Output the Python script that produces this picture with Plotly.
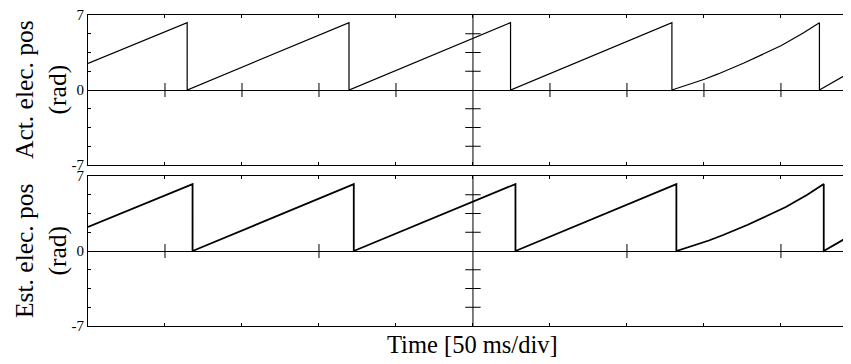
import plotly.graph_objects as go

# ---- data (time in ms, position in rad) ----
act_time = [0, 64.4, 64.4, 169.5, 169.5, 274.4, 274.4, 379.2, 379.2, 389.2, 400.3, 409.2, 425.6,
            439.2, 450.3, 464.2, 475.0, 475.0, 495.8]
act_pos = [2.49, 6.28, 0.0, 6.28, 0.0, 6.28, 0.0, 6.28, 0.0, 0.45, 1.0, 1.5, 2.49,
           3.4, 4.15, 5.3, 6.28, 0.0, 1.71]

est_time = [0, 67.9, 67.9, 172.6, 172.6, 277.6, 277.6, 382.1, 382.1, 392.1, 403.2, 412.1, 428.5,
            442.1, 453.2, 467.1, 477.8, 477.8, 495.8]
est_pos = [2.24, 6.25, 0.0, 6.25, 0.0, 6.25, 0.0, 6.25, 0.0, 0.44, 0.98, 1.47, 2.45,
           3.36, 4.1, 5.25, 6.25, 0.0, 1.49]

x_tick_vals = [0, 50, 100, 150, 200, 250, 300, 350, 400, 450]
y_tick_vals = [-7, -5.25, -3.5, -1.75, 0, 1.75, 3.5, 5.25, 7]
y_tick_text = ["-7", "", "", "", "0", "", "", "", "7"]
center_tick_vals = [-5.25, -3.5, -1.75, 1.75, 3.5, 5.25]
act_zero_ticks = [50, 100, 150, 200, 300, 350, 400, 450]
est_zero_ticks = [50, 150, 350, 450]
x_center = 250
x_end = 495.5
y_lim = 7

SERIF = "Liberation Serif, Times New Roman, serif"

fig = go.Figure()
fig.add_trace(go.Scatter(x=act_time, y=act_pos, mode="lines",
                         line=dict(color="black", width=1.2), xaxis="x", yaxis="y"))
fig.add_trace(go.Scatter(x=est_time, y=est_pos, mode="lines",
                         line=dict(color="black", width=1.8), xaxis="x2", yaxis="y2"))

for xa, ya, zt in (("x", "y", act_zero_ticks), ("x2", "y2", est_zero_ticks)):
    fig.add_trace(go.Scatter(x=[x_center] * len(center_tick_vals), y=center_tick_vals, mode="markers",
                             marker=dict(symbol="line-ew", size=11, line=dict(color="black", width=1)),
                             xaxis=xa, yaxis=ya, hoverinfo="skip"))
    fig.add_trace(go.Scatter(x=zt, y=[0] * len(zt), mode="markers",
                             marker=dict(symbol="line-ns", size=10, line=dict(color="black", width=1)),
                             xaxis=xa, yaxis=ya, hoverinfo="skip"))

xcommon = dict(range=[0, x_end], tickvals=x_tick_vals, ticks="inside", ticklen=3, tickcolor="black",
               showticklabels=False, showline=True, mirror="ticks", linecolor="black", linewidth=1,
               showgrid=False, zeroline=False)
ycommon = dict(range=[-y_lim, y_lim], tickvals=y_tick_vals, ticktext=y_tick_text, ticks="inside",
               ticklen=3, tickcolor="black", showline=True, linecolor="black", linewidth=1,
               showgrid=False, zeroline=True, zerolinecolor="black", zerolinewidth=1,
               ticklabeloverflow="allow",
               tickfont=dict(family=SERIF, size=15, color="black"))

fig.update_layout(
    width=843, height=356,
    margin=dict(l=80, r=0, t=7, b=38),
    paper_bgcolor="white", plot_bgcolor="white",
    showlegend=False,
    xaxis=dict(anchor="y", domain=[0, 1], **xcommon),
    xaxis2=dict(anchor="y2", domain=[0, 1], matches="x", **xcommon),
    yaxis=dict(anchor="x", domain=[0.5177, 1], **ycommon),
    yaxis2=dict(anchor="x2", domain=[0, 0.4823], **ycommon),
    shapes=[
        dict(type="line", xref="x", yref="y domain", x0=x_center, x1=x_center, y0=0, y1=1,
             line=dict(color="black", width=1)),
        dict(type="line", xref="x2", yref="y2 domain", x0=x_center, x1=x_center, y0=0, y1=1,
             line=dict(color="black", width=1)),
    ],
    annotations=[
        dict(text="Act. elec. pos<br>(rad)", textangle=-90, xref="paper", x=0, xanchor="center",
             xshift=-47, yref="y domain", y=0.5, yanchor="middle", showarrow=False,
             font=dict(family=SERIF, size=25.5, color="black")),
        dict(text="Est. elec. pos<br>(rad)", textangle=-90, xref="paper", x=0, xanchor="center",
             xshift=-47, yref="y2 domain", y=0.5, yanchor="middle", showarrow=False,
             font=dict(family=SERIF, size=25.5, color="black")),
        dict(text="Time [50 ms/div]", xref="x2", x=x_center, xanchor="center",
             yref="paper", y=0, yanchor="top", yshift=-3, showarrow=False,
             font=dict(family=SERIF, size=24.5, color="black")),
    ],
)

fig.write_html("out.html")
